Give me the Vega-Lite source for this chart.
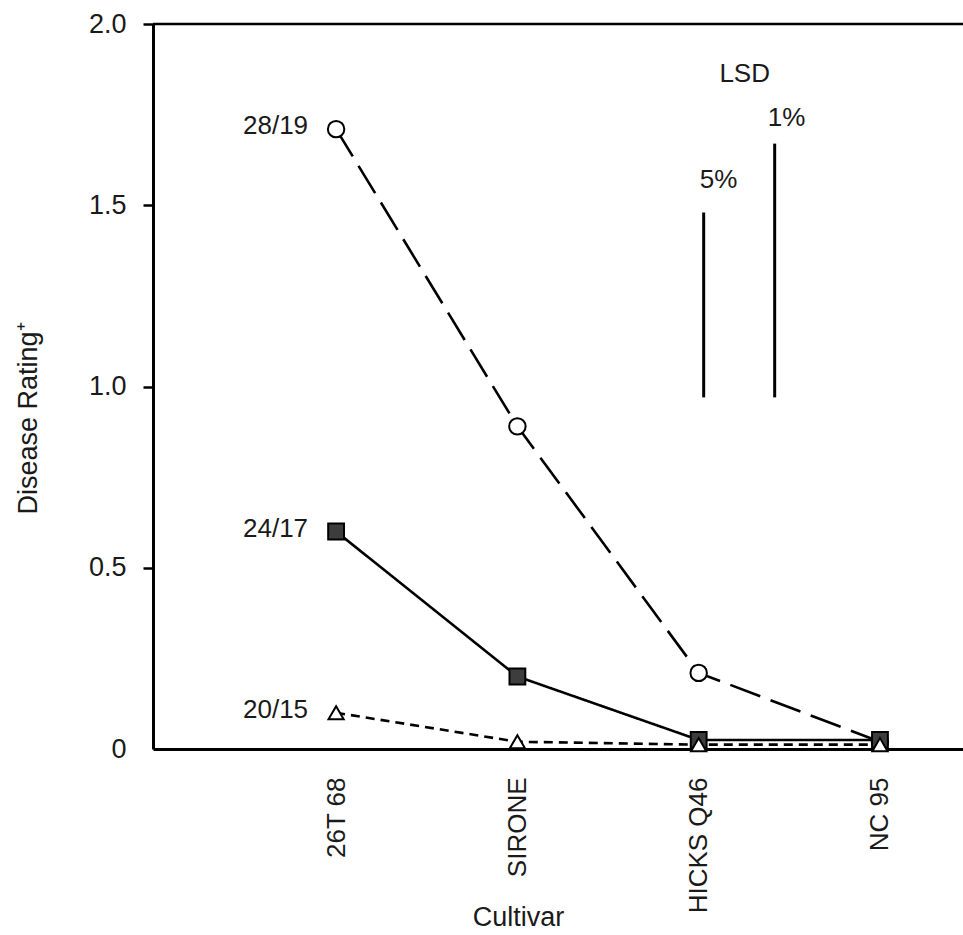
{
  "$schema": "https://vega.github.io/schema/vega-lite/v6.json",
  "width": 810,
  "height": 725,
  "autosize": "none",
  "padding": {"left": 153, "top": 24, "right": 0, "bottom": 186},
  "background": "white",
  "config": {
    "view": {"stroke": null},
    "font": "Liberation Sans",
    "text": {"fontSize": 26, "color": "#1a1a1a"}
  },
  "datasets": {
    "ratings": [
      {"series": "28/19", "cultivar": "26T 68", "rating": 1.71},
      {"series": "28/19", "cultivar": "SIRONE", "rating": 0.89},
      {"series": "28/19", "cultivar": "HICKS Q46", "rating": 0.21},
      {"series": "28/19", "cultivar": "NC 95", "rating": 0.02},
      {"series": "24/17", "cultivar": "26T 68", "rating": 0.60},
      {"series": "24/17", "cultivar": "SIRONE", "rating": 0.20},
      {"series": "24/17", "cultivar": "HICKS Q46", "rating": 0.025},
      {"series": "24/17", "cultivar": "NC 95", "rating": 0.025},
      {"series": "20/15", "cultivar": "26T 68", "rating": 0.10},
      {"series": "20/15", "cultivar": "SIRONE", "rating": 0.02},
      {"series": "20/15", "cultivar": "HICKS Q46", "rating": 0.012},
      {"series": "20/15", "cultivar": "NC 95", "rating": 0.012}
    ],
    "lsd": [
      {"level": "5%", "low": 0.97, "high": 1.48},
      {"level": "1%", "low": 0.97, "high": 1.67}
    ]
  },
  "layer": [
    {
      "data": {"name": "ratings"},
      "mark": {"type": "line", "color": "black", "strokeWidth": 2.6},
      "encoding": {
        "x": {
          "field": "cultivar", "type": "nominal", "sort": null,
          "scale": {"type": "point", "domain": ["26T 68", "SIRONE", "HICKS Q46", "NC 95"], "padding": 0.734, "align": 0.688},
          "axis": {
            "title": "Cultivar", "titleFontSize": 27, "titleFontWeight": "normal", "titleColor": "#1a1a1a", "titleFont": "Liberation Sans",
            "titleX": 365, "titleY": 176, "titleBaseline": "alphabetic", "titleAlign": "center",
            "labelAngle": 270, "labelFontSize": 26, "labelColor": "#1a1a1a", "labelFont": "Liberation Sans", "labelPadding": 28,
            "ticks": false, "domainColor": "black", "domainWidth": 3, "grid": false
          }
        },
        "y": {
          "field": "rating", "type": "quantitative",
          "scale": {"domain": [0, 2], "nice": false, "zero": true},
          "axis": {
            "title": "Disease Rating⁺", "titleFontSize": 27, "titleFontWeight": "normal", "titleColor": "#1a1a1a", "titleFont": "Liberation Sans",
            "titleX": -117, "titleY": 394, "titleBaseline": "alphabetic", "titleAlign": "center", "titleAngle": 270,
            "values": [0, 0.5, 1, 1.5, 2],
            "labelExpr": "datum.value == 0 ? '0' : format(datum.value, '.1f')",
            "labelFontSize": 27, "labelColor": "#1a1a1a", "labelFont": "Liberation Sans", "labelPadding": 17,
            "tickSize": 10, "tickWidth": 2.5, "tickColor": "black",
            "tickOpacity": {"condition": {"test": "datum.value == 0", "value": 0}, "value": 1},
            "domainColor": "black", "domainWidth": 3, "grid": false
          }
        },
        "detail": {"field": "series"},
        "strokeDash": {
          "field": "series", "type": "nominal",
          "scale": {"domain": ["28/19", "24/17", "20/15"], "range": [[32, 11], [1, 0], [9, 6]]},
          "legend": null
        }
      }
    },
    {
      "data": {"values": [{"edge": "top"}]},
      "mark": {"type": "rule", "color": "black", "strokeWidth": 2.6},
      "encoding": {"y": {"datum": 2, "type": "quantitative"}}
    },
    {
      "data": {"name": "ratings"},
      "mark": {"type": "point", "filled": true, "stroke": "black", "strokeWidth": 2, "opacity": 1},
      "encoding": {
        "x": {"field": "cultivar", "type": "nominal", "sort": null},
        "y": {"field": "rating", "type": "quantitative"},
        "shape": {"field": "series", "type": "nominal", "scale": {"domain": ["28/19", "24/17", "20/15"], "range": ["circle", "square", "triangle-up"]}, "legend": null},
        "fill": {"field": "series", "type": "nominal", "scale": {"domain": ["28/19", "24/17", "20/15"], "range": ["white", "#3d3d3d", "white"]}, "legend": null},
        "size": {"field": "series", "type": "nominal", "scale": {"domain": ["28/19", "24/17", "20/15"], "range": [270, 230, 190]}, "legend": null}
      }
    },
    {
      "data": {"name": "ratings"},
      "transform": [{"filter": "datum.cultivar == '26T 68'"}],
      "mark": {"type": "text", "align": "right", "baseline": "middle", "dx": -28, "dy": -3, "fontSize": 26},
      "encoding": {
        "x": {"field": "cultivar", "type": "nominal", "sort": null},
        "y": {"field": "rating", "type": "quantitative"},
        "text": {"field": "series"}
      }
    },
    {
      "data": {"name": "lsd"},
      "transform": [{"filter": "datum.level == '5%'"}],
      "mark": {"type": "rule", "color": "black", "strokeWidth": 3, "xOffset": 5},
      "encoding": {
        "x": {"datum": "HICKS Q46", "type": "nominal"},
        "y": {"field": "low", "type": "quantitative"},
        "y2": {"field": "high"}
      }
    },
    {
      "data": {"name": "lsd"},
      "transform": [{"filter": "datum.level == '1%'"}],
      "mark": {"type": "rule", "color": "black", "strokeWidth": 3, "xOffset": 76},
      "encoding": {
        "x": {"datum": "HICKS Q46", "type": "nominal"},
        "y": {"field": "low", "type": "quantitative"},
        "y2": {"field": "high"}
      }
    },
    {
      "data": {"name": "lsd"},
      "transform": [{"filter": "datum.level == '5%'"}],
      "mark": {"type": "text", "align": "left", "baseline": "alphabetic", "dx": 1, "dy": -25, "fontSize": 26},
      "encoding": {
        "x": {"datum": "HICKS Q46", "type": "nominal"},
        "y": {"field": "high", "type": "quantitative"},
        "text": {"field": "level"}
      }
    },
    {
      "data": {"name": "lsd"},
      "transform": [{"filter": "datum.level == '1%'"}],
      "mark": {"type": "text", "align": "left", "baseline": "alphabetic", "dx": 69, "dy": -18, "fontSize": 26},
      "encoding": {
        "x": {"datum": "HICKS Q46", "type": "nominal"},
        "y": {"field": "high", "type": "quantitative"},
        "text": {"field": "level"}
      }
    },
    {
      "data": {"values": [{"label": "LSD"}]},
      "mark": {"type": "text", "align": "center", "baseline": "alphabetic", "dx": 46, "fontSize": 26},
      "encoding": {
        "x": {"datum": "HICKS Q46", "type": "nominal"},
        "y": {"datum": 1.84, "type": "quantitative"},
        "text": {"field": "label"}
      }
    }
  ]
}
